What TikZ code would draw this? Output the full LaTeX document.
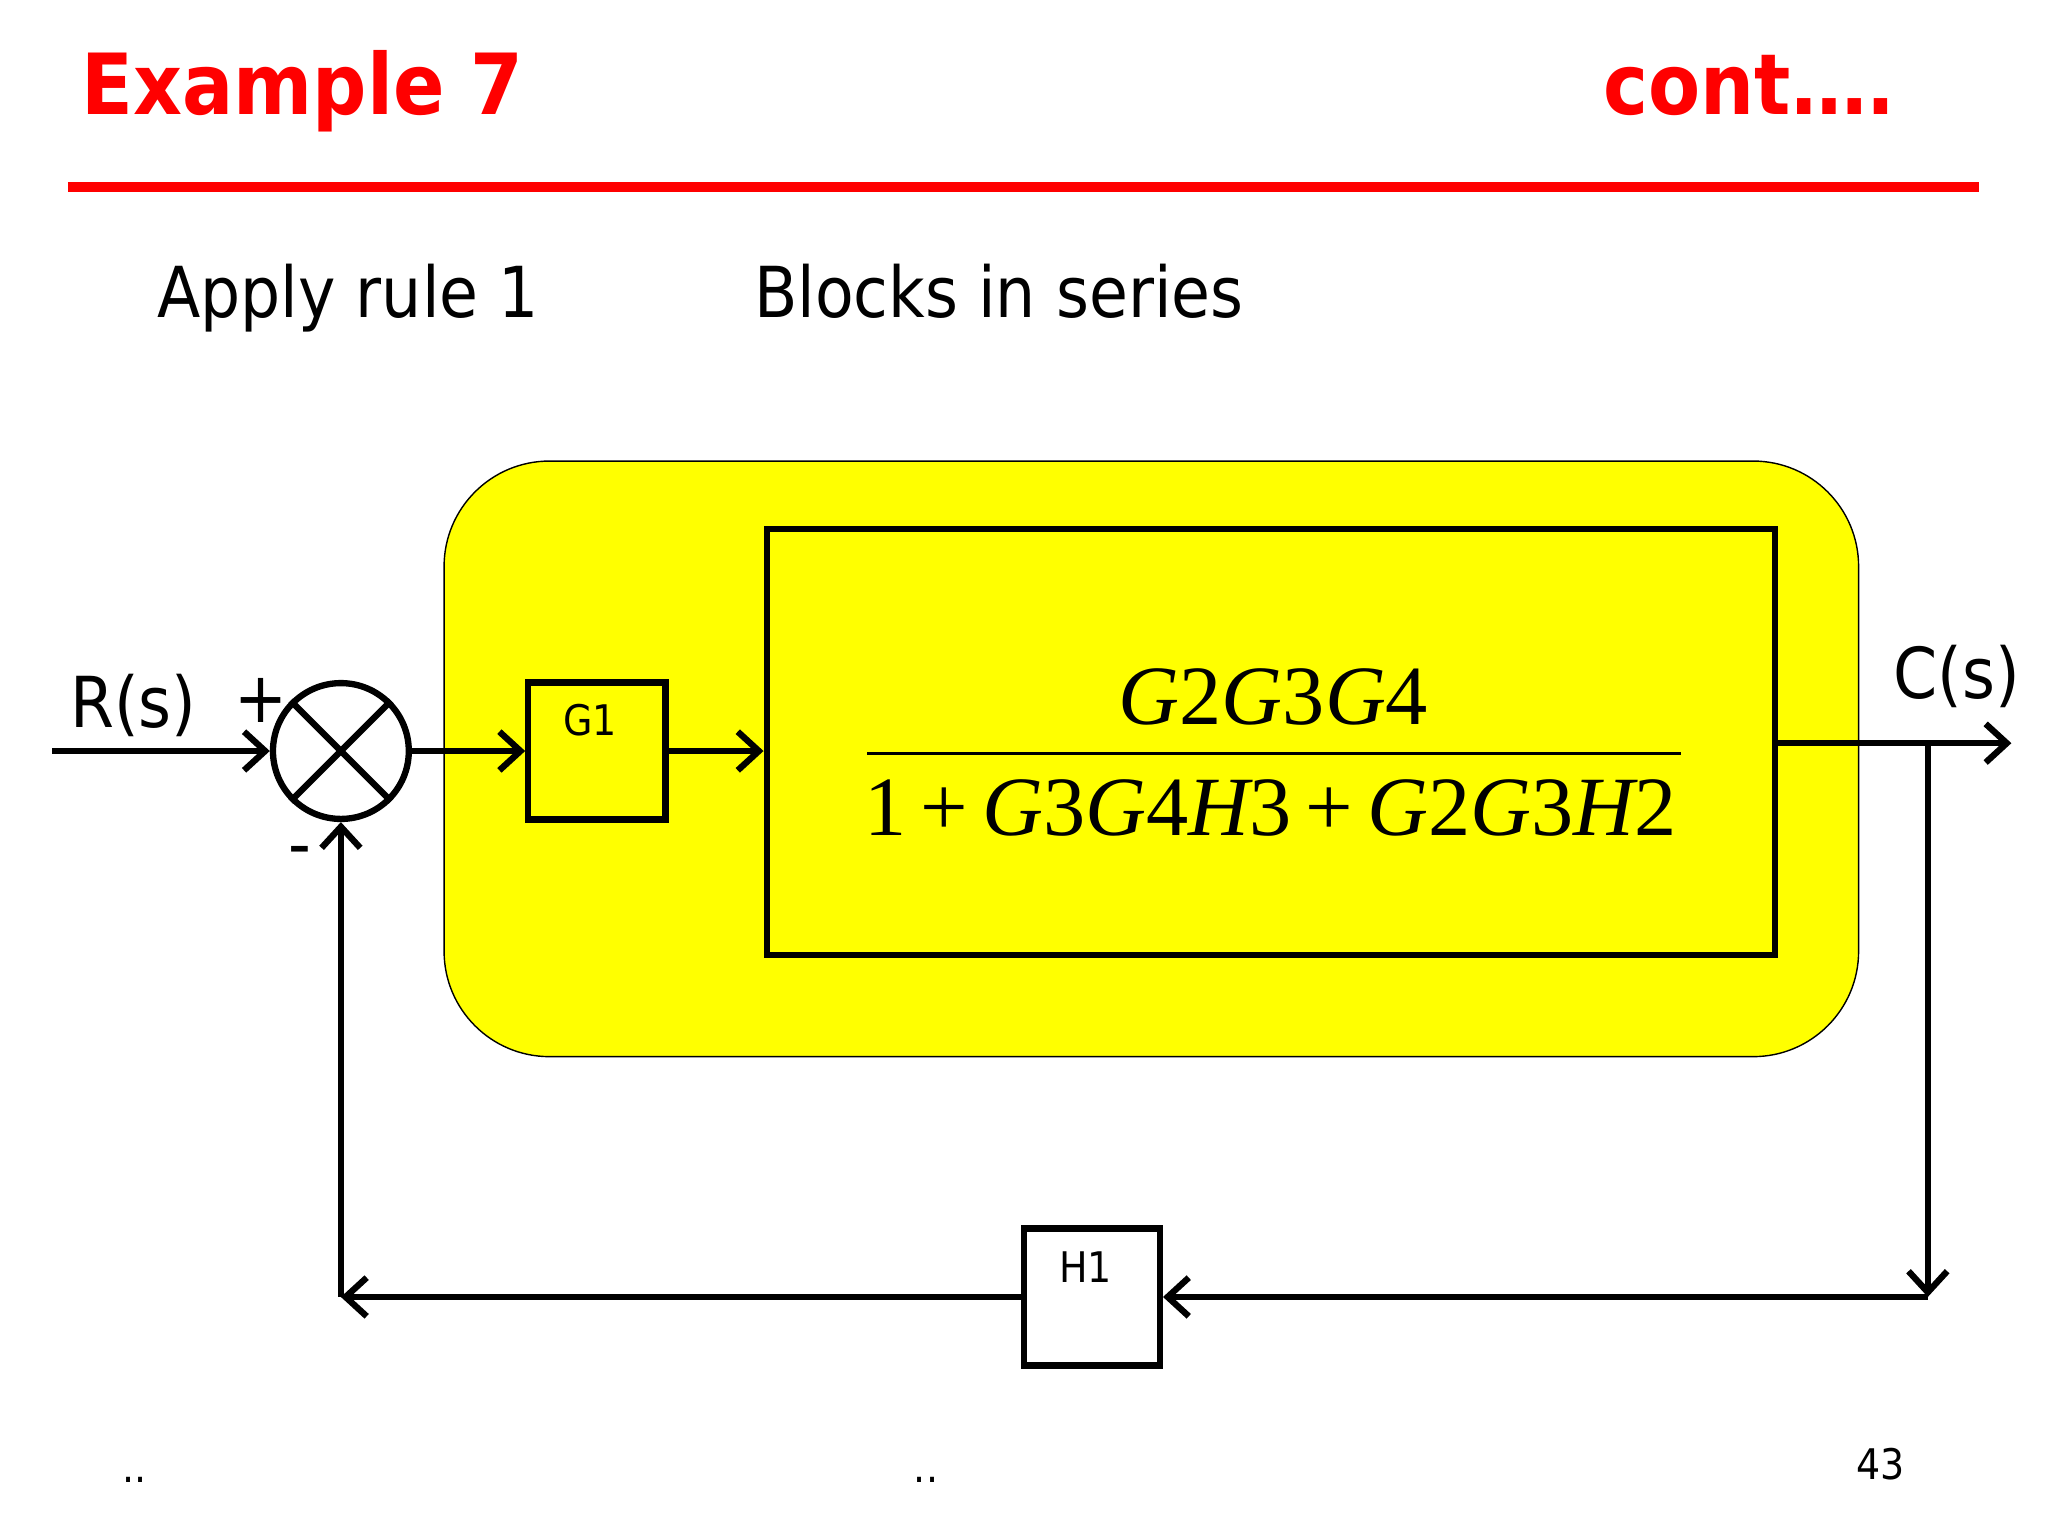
\documentclass[tikz,border=0pt]{standalone}
\usepackage{fontspec}
\setmainfont{DejaVu Sans Condensed}
\newfontfamily\tms{Liberation Serif}
\usetikzlibrary{arrows.meta}
\definecolor{ttl}{RGB}{255,0,0}
\definecolor{hl}{RGB}{255,255,0}
\tikzset{
  wire/.style={line width=1.8pt},
  arr/.style={wire,-{Straight Barb[length=6pt,width=11pt,line width=1.8pt]}},
  blk/.style={draw,line width=1.8pt,inner sep=0pt},
  lbl/.style={font=\fontsize{20}{24}\selectfont},
  sml/.style={font=\fontsize{12}{14}\selectfont},
}
\begin{document}
\begin{tikzpicture}[x=0.01306cm,y=-0.01306cm]
\useasboundingbox (0,0) rectangle (1568,1176);
% header
\node[anchor=base west,text=ttl,font=\fontsize{24}{30}\selectfont\bfseries,inner sep=0pt] (t1) at (62,88) {Example 7};
\node[anchor=base east,text=ttl,font=\fontsize{24}{30}\selectfont\bfseries,inner sep=0pt] (t2) at (1452,88) {cont….};
\draw[ttl,line width=2.7pt] (52,143) -- (1515,143);
\node[lbl,anchor=base west,inner sep=0pt] (a1) at (120,243) {Apply rule 1};
\node[lbl,anchor=base west,inner sep=0pt] (a2) at (577,243) {Blocks in series};
% yellow region
\draw[fill=hl,rounded corners=30] (340,353) rectangle (1423,809);
% blocks
\node[blk,minimum width=772*0.01306cm,minimum height=326*0.01306cm] (B) at (973,568) {};
\draw[line width=1pt] (664,577) -- (1287,577);
\node[font=\fontsize{24}{30}\selectfont\tms,anchor=base] (num) at (975,555) {\itshape G\upshape2\itshape G\upshape3\itshape G\upshape4};
\node[font=\fontsize{24}{30}\selectfont\tms,anchor=base] (den) at (973,640) {1\,+\,\itshape G\upshape3\itshape G\upshape4\itshape H\upshape3\,+\,\itshape G\upshape2\itshape G\upshape3\itshape H\upshape2};
\node[blk,minimum width=105*0.01306cm,minimum height=105*0.01306cm] (G1) at (457,575) {};
\node[sml,anchor=base] at (452,563) {G1};
\node[blk,minimum width=104*0.01306cm,minimum height=105*0.01306cm] (H1) at (836,993) {};
\node[sml,anchor=base] at (831,982) {H1};
% summing junction
\node[draw,circle,line width=1.8pt,minimum size=104*0.01306cm,inner sep=0pt] (S) at (261,575) {};
\draw[wire] (S.north west) -- (S.south east) (S.north east) -- (S.south west);
\coordinate (in) at (40,575);
\coordinate (out) at (1540,569);
\coordinate (br) at (1476,569);
\coordinate (bd) at (1476,993);
\coordinate (bl) at (261,993);
\draw[arr] (in) -- (S.west);
\draw[arr] (S.east) -- (G1.west);
\draw[arr] (G1.east) -- (G1.east -| B.west);
\draw[arr] (B.east |- out) -- (out);
\draw[arr] (br) -- (bd);
\draw[arr] (bd) -- (H1.east);
\draw[arr] (H1.west) -- (bl);
\draw[arr] (bl) -- (S.south);
\node[lbl,anchor=base] at (102,557) {R(s)};
\node[lbl,anchor=base] at (200,553) {+};
\node[lbl,anchor=base] at (230,665) {-};
\node[lbl,anchor=base] at (1498,535) {C(s)};
\node[sml,anchor=base] at (103,1135) {..};
\node[sml,anchor=base] at (709,1135) {..};
\node[sml,anchor=base] at (1440,1133) {43};
\end{tikzpicture}
\end{document}
